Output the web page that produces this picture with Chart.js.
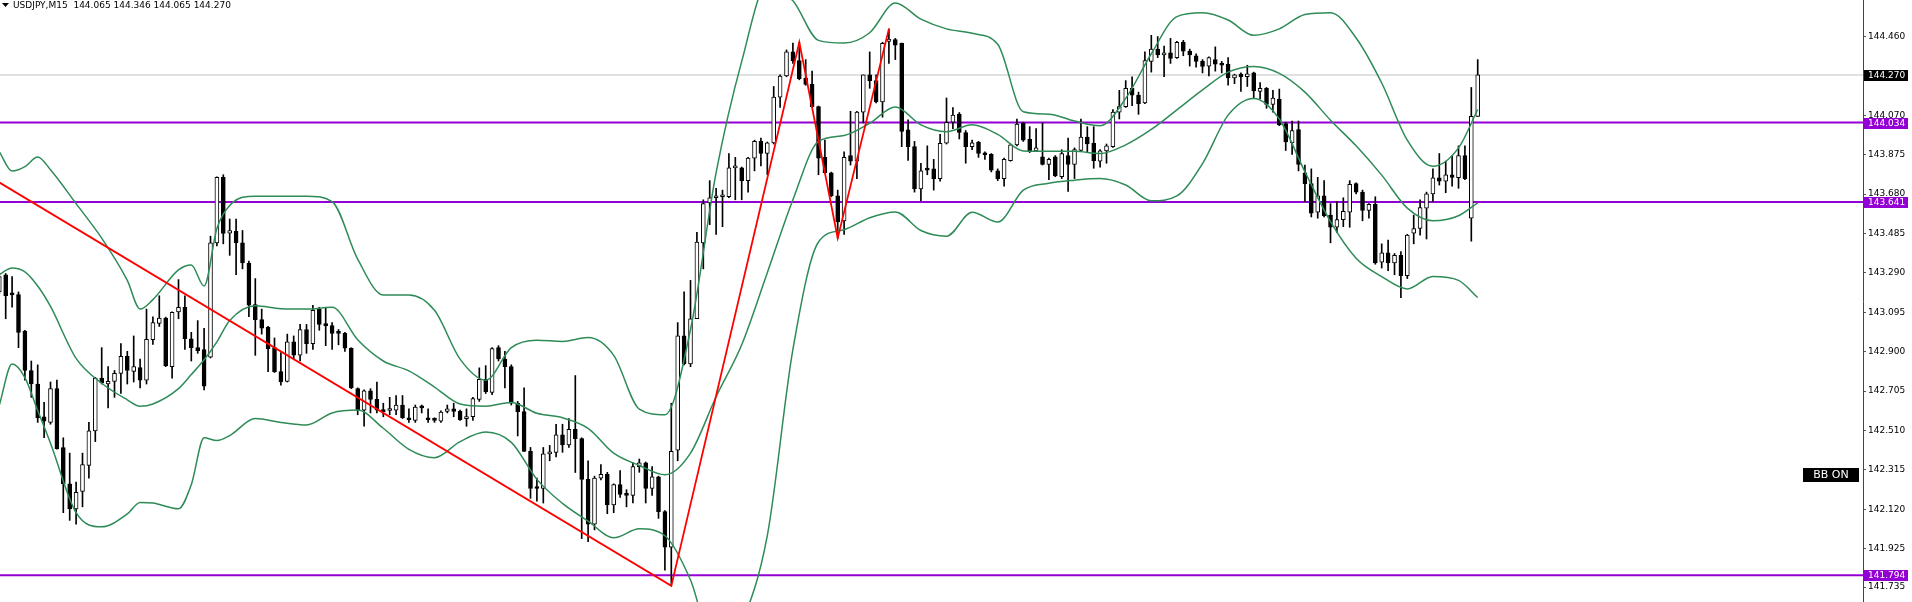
<!DOCTYPE html>
<html>
<head>
<meta charset="utf-8">
<title>USDJPY,M15</title>
<script src="https://cdn.jsdelivr.net/npm/chart.js@4.4.1/dist/chart.umd.min.js"></script>
<style>
    html, body { margin: 0; padding: 0; background: #ffffff; }
    #wrap { width: 1912px; height: 602px; }
</style>
</head>
<body>
<div id="wrap"><canvas id="myChart" width="1912" height="602"></canvas></div>
<script>
const symbolTitle = "USDJPY,M15";
const lastBar = [144.065, 144.346, 144.065, 144.270];

// M15 candles, oldest first
const opens = [
    143.196, 143.281, 143.186, 143.183, 143.002, 142.807, 142.740, 142.578, 142.550, 142.717,
    142.426, 142.246, 142.122, 142.208, 142.337, 142.508, 142.769, 142.740, 142.753, 142.793,
    142.877, 142.803, 142.822, 142.759, 142.959, 143.040, 143.067, 142.826, 143.097, 143.120,
    142.964, 142.920, 142.911, 142.873, 143.439, 143.763, 143.487, 143.496, 143.439, 143.339,
    143.133, 143.059, 143.021, 142.920, 142.801, 142.753, 142.949, 142.883, 143.010, 142.940,
    143.111, 143.038, 143.029, 142.995, 142.991, 142.917, 142.717, 142.611, 142.706, 142.664,
    142.611, 142.609, 142.611, 142.636, 142.573, 142.560, 142.624, 142.569, 142.569, 142.556,
    142.605, 142.617, 142.605, 142.569, 142.578, 142.664, 142.763, 142.698, 142.920, 142.864,
    142.826, 142.645, 142.603, 142.407, 142.230, 142.223, 142.394, 142.402, 142.489, 142.439,
    142.516, 142.470, 142.268, 142.046, 142.274, 142.293, 142.141, 142.242, 142.196, 142.189,
    142.331, 142.350, 142.223, 142.280, 142.108, 141.932, 142.413, 142.978, 142.839, 143.063,
    143.439, 143.637, 143.662, 143.667, 143.667, 143.810, 143.810, 143.747, 143.858, 143.941,
    143.881, 143.934, 144.160, 144.265, 144.384, 144.341, 144.255, 144.223, 144.113, 143.862,
    143.786, 143.671, 143.548, 143.871, 143.843, 144.086, 144.270, 144.242, 144.137, 144.436,
    144.445, 144.426, 143.998, 143.915, 143.706, 143.805, 143.805, 143.757, 143.932, 144.036,
    144.076, 143.985, 143.915, 143.938, 143.881, 143.877, 143.795, 143.757, 143.846, 143.924,
    144.033, 143.951, 143.894, 143.865, 143.827, 143.865, 143.766, 143.871, 143.827, 143.896,
    143.962, 143.932, 143.843, 143.894, 143.915, 144.086, 144.113, 144.204, 144.170, 144.132,
    144.337, 144.398, 144.369, 144.379, 144.356, 144.432, 144.388, 144.365, 144.337, 144.314,
    144.346, 144.322, 144.322, 144.255, 144.274, 144.261, 144.280, 144.189, 144.204, 144.124,
    144.151, 144.029, 143.934, 144.000, 143.786, 143.732, 143.591, 143.671, 143.576, 143.516,
    143.554, 143.591, 143.732, 143.690, 143.599, 143.630, 143.343, 143.390, 143.339, 143.377,
    143.276, 143.487, 143.510, 143.610, 143.681, 143.761, 143.744, 143.776, 143.761, 143.871,
    143.561, 144.065
];
const highs = [
    143.287, 143.287, 143.272, 143.196, 143.006, 142.854, 142.835, 142.649, 142.750, 142.759,
    142.474, 142.398, 142.255, 142.398, 142.550, 142.773, 142.920, 142.826, 142.807, 142.940,
    142.902, 142.978, 142.864, 143.111, 143.073, 143.177, 143.071, 143.097, 143.257, 143.177,
    142.996, 143.054, 143.016, 143.472, 143.766, 143.776, 143.557, 143.557, 143.500, 143.348,
    143.262, 143.111, 143.025, 142.968, 142.896, 142.987, 142.978, 143.035, 143.035, 143.130,
    143.120, 143.120, 143.044, 143.010, 142.996, 142.920, 142.721, 142.711, 142.717, 142.750,
    142.645, 142.674, 142.683, 142.683, 142.617, 142.636, 142.636, 142.617, 142.573, 142.607,
    142.636, 142.645, 142.611, 142.617, 142.674, 142.820, 142.831, 142.920, 142.930, 142.902,
    142.835, 142.654, 142.721, 142.426, 142.274, 142.426, 142.436, 142.541, 142.541, 142.569,
    142.782, 142.474, 142.360, 142.284, 142.341, 142.303, 142.246, 142.312, 142.217, 142.350,
    142.369, 142.354, 142.331, 142.284, 142.113, 142.645, 143.044, 143.196, 143.253, 143.491,
    143.652, 143.747, 143.709, 143.700, 143.881, 143.862, 143.814, 143.862, 143.947, 143.957,
    143.938, 144.213, 144.270, 144.394, 144.428, 144.432, 144.346, 144.289, 144.116, 143.947,
    143.789, 143.700, 143.890, 144.090, 144.090, 144.270, 144.384, 144.270, 144.432, 144.498,
    144.451, 144.428, 144.048, 143.941, 143.833, 143.919, 143.852, 143.976, 144.156, 144.109,
    144.084, 143.995, 143.947, 143.941, 143.890, 143.881, 143.805, 143.858, 143.928, 144.052,
    144.036, 144.014, 144.004, 144.033, 143.858, 143.871, 143.900, 143.957, 143.909, 144.052,
    144.014, 144.014, 143.900, 143.928, 144.099, 144.194, 144.242, 144.261, 144.185, 144.384,
    144.466, 144.460, 144.413, 144.451, 144.436, 144.441, 144.398, 144.375, 144.346, 144.360,
    144.409, 144.337, 144.356, 144.274, 144.280, 144.318, 144.284, 144.232, 144.208, 144.194,
    144.200, 144.036, 144.042, 144.042, 143.824, 143.805, 143.763, 143.747, 143.633, 143.643,
    143.662, 143.747, 143.736, 143.700, 143.633, 143.667, 143.434, 143.453, 143.386, 143.396,
    143.481, 143.576, 143.652, 143.690, 143.805, 143.881, 143.843, 143.871, 143.919, 143.919,
    144.208, 144.346
];
const lows = [
    143.186, 143.063, 143.120, 142.920, 142.759, 142.674, 142.550, 142.474, 142.541, 142.417,
    142.103, 142.065, 142.046, 142.132, 142.274, 142.455, 142.740, 142.622, 142.674, 142.693,
    142.740, 142.750, 142.721, 142.740, 142.936, 143.025, 142.826, 142.769, 143.063, 142.911,
    142.854, 142.892, 142.711, 142.869, 143.424, 143.434, 143.377, 143.281, 143.310, 143.073,
    142.882, 142.987, 142.801, 142.797, 142.734, 142.750, 142.864, 142.854, 142.892, 142.911,
    143.006, 142.930, 142.911, 142.934, 142.902, 142.717, 142.588, 142.531, 142.597, 142.597,
    142.578, 142.588, 142.588, 142.569, 142.550, 142.550, 142.597, 142.550, 142.550, 142.550,
    142.597, 142.578, 142.560, 142.531, 142.560, 142.654, 142.693, 142.687, 142.854, 142.721,
    142.636, 142.483, 142.407, 142.174, 142.160, 142.151, 142.360, 142.379, 142.402, 142.426,
    142.302, 141.975, 141.960, 142.018, 142.265, 142.098, 142.103, 142.179, 142.132, 142.151,
    142.303, 142.151, 142.189, 142.075, 141.818, 141.741, 142.360, 142.835, 142.826, 143.063,
    143.310, 143.529, 143.481, 143.519, 143.662, 143.652, 143.652, 143.690, 143.795, 143.820,
    143.776, 143.928, 144.109, 144.261, 144.327, 144.246, 144.219, 144.109, 143.776, 143.782,
    143.667, 143.462, 143.481, 143.824, 143.757, 144.033, 144.204, 144.132, 144.061, 144.327,
    144.346, 143.915, 143.847, 143.690, 143.648, 143.776, 143.700, 143.744, 143.928, 144.004,
    143.953, 143.833, 143.900, 143.862, 143.852, 143.790, 143.747, 143.719, 143.843, 143.919,
    143.941, 143.886, 143.890, 143.824, 143.751, 143.766, 143.757, 143.694, 143.757, 143.890,
    143.890, 143.808, 143.814, 143.833, 143.911, 144.052, 144.109, 144.118, 144.075, 144.128,
    144.284, 144.356, 144.261, 144.327, 144.352, 144.365, 144.314, 144.308, 144.280, 144.265,
    144.289, 144.280, 144.219, 144.227, 144.189, 144.213, 144.156, 144.151, 144.105, 144.086,
    144.019, 143.896, 143.877, 143.795, 143.643, 143.567, 143.561, 143.567, 143.439, 143.491,
    143.519, 143.516, 143.681, 143.548, 143.561, 143.333, 143.314, 143.301, 143.281, 143.168,
    143.262, 143.434, 143.477, 143.458, 143.643, 143.725, 143.687, 143.719, 143.709, 143.751,
    143.447, 144.065
];
const closes = [
    143.272, 143.177, 143.181, 142.996, 142.807, 142.740, 142.573, 142.556, 142.717, 142.420,
    142.246, 142.122, 142.204, 142.341, 142.508, 142.769, 142.746, 142.753, 142.793, 142.877,
    142.807, 142.826, 142.759, 142.961, 143.044, 143.067, 142.831, 143.095, 143.120, 142.964,
    142.920, 142.905, 142.730, 143.439, 143.763, 143.485, 143.500, 143.439, 143.339, 143.130,
    143.059, 143.016, 142.915, 142.801, 142.750, 142.949, 142.883, 143.010, 142.940, 143.105,
    143.035, 143.029, 142.991, 142.991, 142.917, 142.721, 142.611, 142.706, 142.664, 142.611,
    142.603, 142.614, 142.636, 142.573, 142.563, 142.626, 142.622, 142.563, 142.560, 142.601,
    142.617, 142.605, 142.563, 142.578, 142.668, 142.763, 142.702, 142.915, 142.864, 142.826,
    142.645, 142.603, 142.407, 142.223, 142.223, 142.394, 142.402, 142.489, 142.439, 142.516,
    142.470, 142.268, 142.046, 142.274, 142.293, 142.141, 142.242, 142.193, 142.189, 142.331,
    142.350, 142.223, 142.280, 142.108, 141.932, 142.407, 142.978, 142.839, 143.063, 143.443,
    143.633, 143.662, 143.671, 143.671, 143.810, 143.820, 143.747, 143.858, 143.941, 143.881,
    143.934, 144.160, 144.265, 144.384, 144.341, 144.251, 144.223, 144.113, 143.858, 143.786,
    143.671, 143.542, 143.862, 143.843, 144.086, 144.270, 144.242, 144.137, 144.426, 144.447,
    144.417, 143.991, 143.915, 143.706, 143.795, 143.799, 143.757, 143.932, 144.036, 144.071,
    143.985, 143.915, 143.934, 143.881, 143.875, 143.799, 143.757, 143.852, 143.924, 144.027,
    143.947, 143.890, 143.909, 143.827, 143.852, 143.770, 143.881, 143.827, 143.900, 143.962,
    143.928, 143.846, 143.894, 143.919, 144.086, 144.113, 144.204, 144.170, 144.128, 144.341,
    144.398, 144.369, 144.379, 144.352, 144.432, 144.388, 144.369, 144.337, 144.312, 144.356,
    144.323, 144.318, 144.255, 144.270, 144.261, 144.276, 144.191, 144.204, 144.124, 144.156,
    144.023, 143.938, 143.995, 143.827, 143.732, 143.586, 143.671, 143.573, 143.516, 143.554,
    143.595, 143.728, 143.690, 143.599, 143.630, 143.339, 143.390, 143.339, 143.377, 143.276,
    143.477, 143.510, 143.614, 143.681, 143.761, 143.744, 143.776, 143.763, 143.871, 143.757,
    144.065, 144.270
];

// Bollinger bands (bar index, price)
const bbIndex = [
    0, 2, 4, 6, 8, 12, 16, 20, 22, 24, 28, 30, 32, 34, 36,
    40, 44, 48, 52, 56, 60, 64, 68, 72, 76,
    80, 84, 88, 92, 96, 100, 104, 108, 112, 116,
    120, 124, 128, 132, 136, 140, 144, 148, 152, 156,
    160, 164, 168, 172, 176, 180, 184, 188, 192, 196,
    200, 204, 208, 212, 216, 220, 224, 228, 231
];
const bbUpper = [
    143.890, 143.794, 143.816, 143.864, 143.801, 143.633, 143.462, 143.253, 143.111, 143.158, 143.305, 143.329, 143.225, 143.510, 143.624,
    143.670, 143.670, 143.670, 143.643, 143.358, 143.181, 143.181, 143.105, 142.863, 142.759,
    142.920, 142.957, 142.951, 142.970, 142.882, 142.616, 142.588, 143.010, 143.786, 144.337,
    144.717, 144.637, 144.441, 144.428, 144.479, 144.626, 144.546, 144.498, 144.476, 144.422,
    144.088, 144.076, 144.042, 144.019, 144.154, 144.375, 144.559, 144.578, 144.542, 144.466,
    144.498, 144.569, 144.578, 144.453, 144.230, 143.947, 143.818, 143.909, 144.099
];
const bbMiddle = [
    143.282, 143.314, 143.295, 143.225, 143.124, 142.867, 142.744, 142.662, 142.630, 142.641, 142.717, 142.787, 142.860, 142.949, 143.055,
    143.128, 143.113, 143.111, 143.120, 142.959, 142.854, 142.805, 142.725, 142.641, 142.630,
    142.649, 142.595, 142.573, 142.521, 142.398, 142.337, 142.291, 142.398, 142.677, 142.934,
    143.291, 143.652, 143.941, 143.970, 144.031, 144.111, 144.023, 143.989, 144.023, 143.976,
    143.894, 143.892, 143.892, 143.881, 143.924, 144.000, 144.097, 144.196, 144.284, 144.312,
    144.278, 144.185, 144.046, 143.919, 143.774, 143.611, 143.548, 143.573, 143.637
];
const bbLower = [
    142.635, 142.839, 142.772, 142.609, 142.447, 142.103, 142.033, 142.097, 142.154, 142.151, 142.122, 142.242, 142.474, 142.460, 142.485,
    142.569, 142.550, 142.537, 142.597, 142.611, 142.521, 142.417, 142.375, 142.455, 142.502,
    142.451, 142.268, 142.149, 142.061, 141.979, 142.023, 141.989, 141.770, 141.409, 141.561,
    141.990, 142.911, 143.443, 143.504, 143.563, 143.592, 143.500, 143.472, 143.590, 143.542,
    143.700, 143.734, 143.749, 143.757, 143.725, 143.647, 143.671, 143.831, 144.071, 144.154,
    144.052, 143.791, 143.544, 143.363, 143.272, 143.211, 143.272, 143.253, 143.168
];

// zigzag turning points
const zigIndex = [0, 105, 125, 131, 139];
const zigPrice = [143.738, 141.741, 144.432, 143.462, 144.498];

const levelPrices = [144.034, 143.641, 141.794];
const bidPrice = 144.270;
const tickValues = [144.460, 144.270, 144.070, 143.875, 143.680, 143.485, 143.290, 143.095,
    142.900, 142.705, 142.510, 142.315, 142.120, 141.925, 141.735];

const FONT = "'DejaVu Sans', sans-serif";

function flatLine(price, color, width) {
    return {
        type: "line",
        data: [{ x: -5, y: price }, { x: 300, y: price }],
        borderColor: color,
        borderWidth: width,
        pointRadius: 0,
        order: 10
    };
}

function bandLine(values) {
    return {
        type: "line",
        data: bbIndex.map((x, k) => ({ x: x, y: values[k] })),
        borderColor: "#2e8b57",
        borderWidth: 1.5,
        pointRadius: 0,
        cubicInterpolationMode: "monotone",
        order: 3
    };
}

const overlayPlugin = {
    id: "overlay",
    afterDraw(chart) {
        const ctx = chart.ctx;
        const yScale = chart.scales.y;
        ctx.save();

        // header
        ctx.fillStyle = "#000000";
        ctx.beginPath();
        ctx.moveTo(2, 3);
        ctx.lineTo(9, 3);
        ctx.lineTo(5.5, 7);
        ctx.closePath();
        ctx.fill();
        ctx.font = "9px " + FONT;
        ctx.textBaseline = "middle";
        ctx.textAlign = "left";
        ctx.fillText(symbolTitle + "  " + lastBar.map(v => v.toFixed(3)).join(" "), 13, 6);

        // price labels on the axis
        function priceBox(price, color) {
            const py = Math.round(yScale.getPixelForValue(price));
            ctx.fillStyle = color;
            ctx.fillRect(yScale.left + 1, py - 5, 44, 11);
            ctx.fillStyle = "#ffffff";
            ctx.fillText(price.toFixed(3), yScale.left + 5, py + 0.5);
        }
        levelPrices.forEach(p => priceBox(p, "#9400d3"));
        priceBox(bidPrice, "#000000");

        // BB ON button
        ctx.fillStyle = "#000000";
        ctx.fillRect(1803, 468, 56, 14);
        ctx.fillStyle = "#ffffff";
        ctx.font = "11px " + FONT;
        ctx.textAlign = "center";
        ctx.fillText("BB ON", 1831, 475.5);

        ctx.restore();
    }
};

document.addEventListener("DOMContentLoaded", function() {
    const ctx = document.getElementById("myChart");

    const wickData = highs.map((h, i) => ({ x: i, y: [lows[i], h] }));
    const bodyData = opens.map((o, i) => ({ x: i, y: [Math.min(o, closes[i]), Math.max(o, closes[i])] }));
    const bodyColors = opens.map((o, i) => closes[i] >= o ? "#ffffff" : "#000000");

    const datasets = levelPrices.map(p => flatLine(p, "#9400d3", 2));
    datasets.push(flatLine(bidPrice, "#d6d6d6", 1.5));
    datasets.push({
        type: "bar",
        data: wickData,
        backgroundColor: "#000000",
        barThickness: 1,
        grouped: false,
        order: 6
    });
    datasets.push({
        type: "bar",
        data: bodyData,
        backgroundColor: bodyColors,
        borderColor: "#000000",
        borderWidth: 1,
        borderSkipped: false,
        barThickness: 4,
        minBarLength: 2,
        grouped: false,
        order: 5
    });
    datasets.push(bandLine(bbUpper));
    datasets.push(bandLine(bbMiddle));
    datasets.push(bandLine(bbLower));
    datasets.push({
        type: "line",
        data: zigIndex.map((x, k) => ({ x: x, y: zigPrice[k] })),
        borderColor: "#ff0000",
        borderWidth: 1.8,
        pointRadius: 0,
        tension: 0,
        order: 2
    });

    new Chart(ctx, {
        type: "bar",
        data: { datasets: datasets },
        options: {
            responsive: false,
            animation: false,
            devicePixelRatio: 1,
            events: [],
            layout: { padding: 0 },
            plugins: {
                legend: { display: false },
                tooltip: { enabled: false }
            },
            scales: {
                x: {
                    type: "linear",
                    min: 0.11,
                    max: 291.2,
                    offset: false,
                    display: false,
                    grid: { offset: false }
                },
                y: {
                    type: "linear",
                    position: "right",
                    min: 141.661,
                    max: 144.641,
                    afterBuildTicks: function(scale) {
                        scale.ticks = tickValues.map(v => ({ value: v }));
                    },
                    afterFit: function(scale) {
                        scale.width = 49;
                        scale.paddingTop = 0;
                        scale.paddingBottom = 0;
                    },
                    border: { display: true, color: "#444444", width: 1 },
                    grid: {
                        drawOnChartArea: false,
                        drawTicks: true,
                        tickLength: 3,
                        color: "#555555"
                    },
                    ticks: {
                        autoSkip: false,
                        padding: 2,
                        color: "#000000",
                        font: { family: FONT, size: 9 },
                        callback: v => v.toFixed(3)
                    }
                }
            }
        },
        plugins: [overlayPlugin]
    });
});
</script>
</body>
</html>
